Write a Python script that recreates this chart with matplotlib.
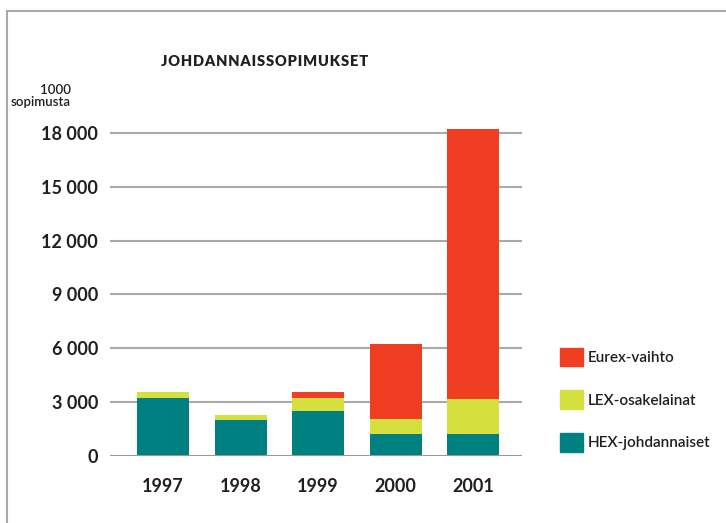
import numpy as np
import matplotlib
matplotlib.use("Agg")
import matplotlib.pyplot as plt
from matplotlib.patches import Patch
from matplotlib.lines import Line2D

plt.rcParams['font.family'] = ['Lato', 'DejaVu Sans']

# data, 1000 contracts
years = ["1997", "1998", "1999", "2000", "2001"]
hex_johd = [3250, 2000, 2500, 1200, 1200]
lex_osak = [310, 300, 730, 850, 1980]
eurex = [0, 0, 340, 4200, 15020]
yticks = [0, 3000, 6000, 9000, 12000, 15000, 18000]
ytick_labels = ["0", "3 000", "6 000", "9 000", "12 000", "15 000", "18 000"]
title = "JOHDANNAISSOPIMUKSET"

c_red = "#F03E23"
c_lime = "#D5E03E"
c_teal = "#008080"
c_text = "#231F20"
c_grid = "#AAAAAA"

fig = plt.figure(figsize=(7.26, 5.23), dpi=100)
ax = fig.add_axes([110/726, 1-456/523, 412/726, 332/523])

x = np.arange(len(years))
w = 0.67
hex_arr = np.array(hex_johd)
lex_arr = np.array(lex_osak)
ax.bar(x, hex_johd, w, color=c_teal, zorder=3)
ax.bar(x, lex_osak, w, bottom=hex_arr, color=c_lime, zorder=3)
ax.bar(x, eurex, w, bottom=hex_arr + lex_arr, color=c_red, zorder=3)

ax.set_xlim(-0.684, 4.63)
ax.set_ylim(0, 18500)
ax.set_yticks(yticks)
ax.set_yticklabels(ytick_labels)
ax.set_xticks(x)
ax.set_xticklabels(years)
ax.tick_params(axis='both', length=0, labelsize=13, labelcolor=c_text)
ax.tick_params(axis='y', pad=8.5)
ax.tick_params(axis='x', pad=16)
for lab in ax.get_xticklabels() + ax.get_yticklabels():
    lab.set_fontweight('bold')

for v in yticks[1:]:
    ax.axhline(v, color=c_grid, lw=1.5, zorder=1)
ax.axhline(0, color="#999999", lw=2.2, zorder=4)
for s in ax.spines.values():
    s.set_visible(False)

# title, letter-spaced with hair spaces
fig.text(265/726, 1-61/523, "\u200a".join(title), ha='center', va='center',
         fontsize=10.5, fontweight='heavy', color=c_text)

fig.text(71/726, 1-96/523, "1000\nsopimusta", ha='right', va='center',
         fontsize=9.5, fontweight='semibold', color=c_text, linespacing=1.05)

# legend
handles = [Patch(color=c_red), Patch(color=c_lime), Patch(color=c_teal)]
labels = ["Eurex-vaihto", "LEX-osakelainat", "HEX-johdannaiset"]
leg = fig.legend(handles, labels, loc='upper left', bbox_to_anchor=(560/726, 1-347.5/523),
                 frameon=False, fontsize=11, handlelength=1.5, handleheight=1.5,
                 labelspacing=1.58, handletextpad=0.3, borderpad=0, borderaxespad=0,
                 labelcolor=c_text)
for t in leg.get_texts():
    t.set_fontweight('semibold')

# outer frame (left and top edges)
fig.add_artist(Line2D([7/726, 7/726], [0, 1-11/523], color=c_grid, lw=1.5, transform=fig.transFigure))
fig.add_artist(Line2D([7/726, 1], [1-11/523, 1-11/523], color=c_grid, lw=1.5, transform=fig.transFigure))

fig.savefig("out.png", dpi=100)
